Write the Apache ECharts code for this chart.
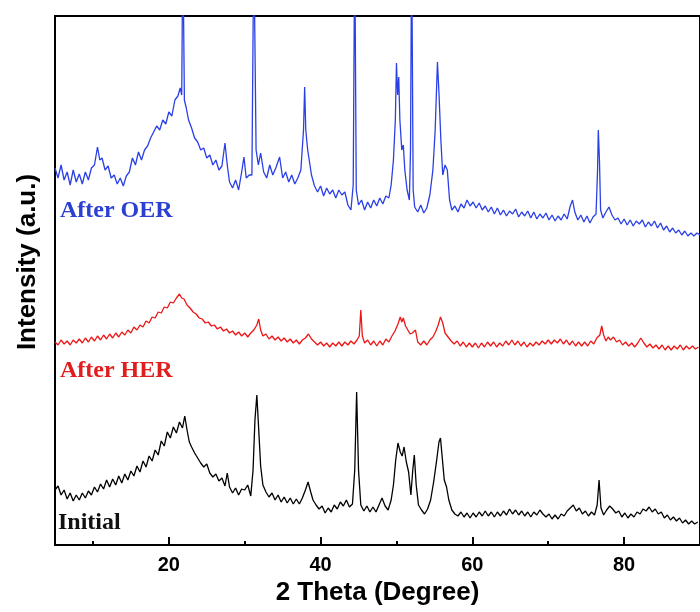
<!DOCTYPE html>
<html>
<head>
<meta charset="utf-8">
<script src="https://cdn.jsdelivr.net/npm/echarts@6/dist/echarts.min.js"></script>
<style>html,body{margin:0;padding:0;background:#fff;}#chart{width:700px;height:612px;}</style>
</head>
<body>
<div id="chart"></div>
<script>
// 2 Theta (degree) / intensity (a.u., offset already applied)
const oerPattern = [[5.0,377],[5.4,367],[5.8,380],[6.2,365],[6.6,373],[7.0,360],[7.4,375],[7.8,363],[8.2,371],[8.6,361],[9.0,373],[9.4,365],[9.8,377],[10.2,380],[10.6,398],[10.9,385],[11.2,387],[11.6,375],[12.0,379],[12.4,367],[12.8,370],[13.2,361],[13.6,367],[14.0,359],[14.4,369],[14.8,373],[15.2,387],[15.6,380],[16.0,393],[16.4,385],[16.8,395],[17.2,399],[17.6,407],[18.0,413],[18.4,419],[18.8,415],[19.2,425],[19.6,421],[20.0,433],[20.4,429],[20.8,445],[21.2,449],[21.5,457],[21.7,450],[21.85,605],[22.05,445],[22.3,437],[22.6,425],[23.0,417],[23.4,407],[23.8,403],[24.2,395],[24.6,397],[25.0,387],[25.4,390],[25.8,380],[26.2,385],[26.6,375],[27.0,379],[27.4,402],[27.7,380],[28.0,363],[28.4,357],[28.8,365],[29.2,355],[29.6,373],[29.9,388],[30.2,367],[30.6,370],[30.95,370],[31.2,605],[31.5,395],[31.8,380],[32.1,392],[32.5,373],[32.9,367],[33.3,380],[33.7,370],[34.1,377],[34.6,388],[35.0,367],[35.4,373],[35.8,363],[36.2,370],[36.6,361],[37.0,367],[37.4,375],[37.75,415],[37.9,458],[38.05,415],[38.3,395],[38.5,385],[38.8,370],[39.2,359],[39.6,353],[40.0,359],[40.4,349],[40.8,357],[41.2,351],[41.6,355],[42.0,347],[42.4,355],[42.8,350],[43.2,353],[43.6,340],[44.0,335],[44.3,360],[44.5,605],[44.7,355],[45.0,340],[45.4,345],[45.8,335],[46.2,343],[46.6,337],[47.0,345],[47.4,339],[47.8,347],[48.2,341],[48.6,349],[49.0,347],[49.3,360],[49.6,385],[49.85,425],[50.0,482],[50.15,450],[50.3,468],[50.45,425],[50.7,395],[50.9,400],[51.1,375],[51.4,355],[51.7,345],[51.85,395],[52.0,605],[52.2,355],[52.4,338],[52.8,333],[53.2,340],[53.6,332],[54.0,337],[54.4,350],[54.8,375],[55.1,415],[55.4,483],[55.6,452],[55.85,405],[56.1,370],[56.4,380],[56.7,375],[57.0,345],[57.3,335],[57.7,339],[58.1,333],[58.5,341],[58.9,337],[59.3,345],[59.7,339],[60.1,343],[60.5,337],[60.9,342],[61.3,335],[61.7,339],[62.1,333],[62.5,338],[62.9,331],[63.3,337],[63.7,330],[64.1,335],[64.5,329],[64.9,334],[65.3,331],[65.7,336],[66.1,328],[66.5,333],[66.9,329],[67.3,334],[67.7,327],[68.1,333],[68.5,326],[68.9,331],[69.3,327],[69.7,332],[70.1,325],[70.5,330],[70.9,324],[71.3,329],[71.7,325],[72.1,331],[72.5,326],[72.9,339],[73.2,345],[73.5,333],[73.9,325],[74.3,330],[74.7,323],[75.1,329],[75.5,322],[75.9,328],[76.3,331],[76.5,375],[76.6,415],[76.75,385],[76.9,335],[77.2,327],[77.6,333],[78.0,338],[78.4,330],[78.8,325],[79.2,327],[79.6,321],[80.0,326],[80.4,320],[80.8,325],[81.2,319],[81.6,324],[82.0,321],[82.4,325],[82.8,318],[83.2,323],[83.6,319],[84.0,324],[84.4,317],[84.8,322],[85.2,315],[85.6,319],[86.0,313],[86.4,317],[86.8,312],[87.2,315],[87.6,310],[88.0,314],[88.4,309],[88.8,312],[89.2,309],[89.6,312],[90.0,310]];

const herPattern = [[5.0,203],[5.4,200],[5.8,205],[6.2,201],[6.6,204],[7.0,200],[7.4,205],[7.8,202],[8.2,206],[8.6,202],[9.0,207],[9.4,203],[9.8,208],[10.2,204],[10.6,209],[11.0,205],[11.4,210],[11.8,206],[12.2,211],[12.6,207],[13.0,212],[13.4,208],[13.8,213],[14.2,210],[14.6,215],[15.0,212],[15.4,218],[15.8,215],[16.2,220],[16.6,218],[17.0,224],[17.4,222],[17.8,228],[18.2,227],[18.6,233],[19.0,232],[19.4,238],[19.8,237],[20.2,243],[20.6,242],[21.0,247],[21.4,251],[21.7,247],[22.0,246],[22.4,240],[22.8,237],[23.2,233],[23.6,231],[24.0,227],[24.4,226],[24.8,222],[25.2,223],[25.6,219],[26.0,220],[26.4,216],[26.8,218],[27.2,214],[27.6,216],[28.0,212],[28.4,214],[28.8,210],[29.2,213],[29.6,209],[30.0,212],[30.4,208],[30.8,212],[31.2,215],[31.6,220],[31.85,226],[32.1,215],[32.4,209],[32.8,211],[33.2,206],[33.6,209],[34.0,205],[34.4,208],[34.8,204],[35.2,207],[35.6,203],[36.0,206],[36.4,202],[36.8,205],[37.2,201],[37.6,205],[38.0,207],[38.4,211],[38.8,206],[39.2,203],[39.6,200],[40.0,203],[40.4,199],[40.8,202],[41.2,198],[41.6,202],[42.0,199],[42.4,203],[42.8,199],[43.2,203],[43.6,200],[44.0,204],[44.4,201],[44.8,205],[45.1,209],[45.3,235],[45.5,209],[45.8,202],[46.2,205],[46.6,200],[47.0,204],[47.4,199],[47.8,204],[48.2,200],[48.6,206],[49.0,203],[49.4,209],[49.8,214],[50.2,221],[50.5,228],[50.7,223],[50.9,227],[51.2,219],[51.5,215],[51.8,211],[52.1,212],[52.5,215],[52.8,203],[53.2,200],[53.6,204],[54.0,200],[54.4,205],[54.8,208],[55.2,214],[55.5,220],[55.8,228],[56.1,222],[56.4,212],[56.8,208],[57.2,204],[57.6,201],[58.0,204],[58.4,199],[58.8,203],[59.2,198],[59.6,202],[60.0,198],[60.4,202],[60.8,197],[61.2,202],[61.6,198],[62.0,203],[62.4,199],[62.8,203],[63.2,198],[63.6,202],[64.0,199],[64.4,204],[64.8,200],[65.2,205],[65.6,200],[66.0,204],[66.4,199],[66.8,203],[67.2,198],[67.6,202],[68.0,199],[68.4,203],[68.8,200],[69.2,204],[69.6,201],[70.0,205],[70.4,201],[70.8,205],[71.2,202],[71.6,206],[72.0,201],[72.4,205],[72.8,200],[73.2,204],[73.6,199],[74.0,203],[74.4,199],[74.8,203],[75.2,199],[75.6,204],[76.0,201],[76.4,207],[76.8,210],[77.05,219],[77.3,210],[77.6,204],[77.9,208],[78.2,205],[78.6,208],[79.0,203],[79.4,205],[79.8,200],[80.2,203],[80.6,199],[81.0,202],[81.4,198],[81.8,202],[82.2,207],[82.6,202],[83.0,198],[83.4,201],[83.8,197],[84.2,200],[84.6,196],[85.0,200],[85.4,195],[85.8,199],[86.2,195],[86.6,199],[87.0,196],[87.4,200],[87.8,195],[88.2,199],[88.6,196],[89.0,199],[89.4,196],[89.8,198]];

const initialPattern = [[5.0,55],[5.4,59],[5.8,50],[6.2,55],[6.6,46],[7.0,52],[7.4,44],[7.8,50],[8.2,45],[8.6,52],[9.0,47],[9.4,54],[9.8,50],[10.2,58],[10.6,53],[11.0,61],[11.4,56],[11.8,65],[12.2,58],[12.6,66],[13.0,60],[13.4,69],[13.8,62],[14.2,71],[14.6,65],[15.0,74],[15.4,69],[15.8,79],[16.2,73],[16.6,84],[17.0,78],[17.4,89],[17.8,84],[18.2,95],[18.6,90],[19.0,104],[19.4,99],[19.8,113],[20.2,107],[20.6,118],[21.0,112],[21.4,123],[21.8,117],[22.1,129],[22.4,115],[22.7,103],[23.0,98],[23.4,92],[23.8,87],[24.2,82],[24.6,78],[25.0,81],[25.4,72],[25.8,68],[26.2,71],[26.6,64],[27.0,67],[27.4,59],[27.7,72],[28.0,58],[28.4,52],[28.8,57],[29.2,50],[29.6,56],[30.0,55],[30.4,60],[30.8,49],[31.1,75],[31.35,125],[31.6,150],[31.85,115],[32.1,79],[32.4,60],[32.8,53],[33.2,48],[33.6,52],[34.0,45],[34.4,50],[34.8,43],[35.2,48],[35.6,42],[36.0,47],[36.4,41],[36.8,46],[37.2,41],[37.6,47],[38.0,55],[38.35,63],[38.7,53],[39.0,45],[39.4,40],[39.8,36],[40.2,39],[40.6,32],[41.0,37],[41.4,33],[41.8,40],[42.2,36],[42.6,43],[43.0,39],[43.4,45],[43.8,38],[44.2,41],[44.5,75],[44.75,153],[45.0,75],[45.3,40],[45.7,34],[46.1,39],[46.5,33],[46.9,38],[47.3,33],[47.7,40],[48.1,47],[48.5,39],[48.9,35],[49.3,45],[49.6,60],[49.9,85],[50.2,102],[50.5,93],[50.75,89],[51.0,98],[51.3,83],[51.6,73],[51.9,50],[52.15,75],[52.35,90],[52.6,60],[52.9,40],[53.3,35],[53.7,31],[54.1,36],[54.5,45],[54.9,63],[55.3,85],[55.6,103],[55.8,107],[56.0,90],[56.3,65],[56.6,58],[56.9,45],[57.3,35],[57.7,31],[58.1,29],[58.5,33],[58.9,28],[59.3,32],[59.7,27],[60.1,32],[60.5,28],[60.9,33],[61.3,29],[61.7,34],[62.1,29],[62.5,33],[62.9,28],[63.3,33],[63.7,29],[64.1,34],[64.5,30],[64.9,36],[65.3,31],[65.7,35],[66.1,30],[66.5,34],[66.9,29],[67.3,33],[67.7,28],[68.1,33],[68.5,30],[68.9,35],[69.3,31],[69.7,28],[70.1,31],[70.5,26],[70.9,30],[71.3,26],[71.7,31],[72.1,29],[72.5,34],[72.9,37],[73.3,40],[73.7,34],[74.1,37],[74.5,31],[74.9,34],[75.3,29],[75.7,33],[76.1,30],[76.45,40],[76.7,65],[76.95,37],[77.3,30],[77.7,35],[78.1,39],[78.5,36],[78.9,32],[79.3,34],[79.7,28],[80.1,32],[80.5,27],[80.9,31],[81.3,28],[81.7,33],[82.1,31],[82.5,36],[82.9,34],[83.3,38],[83.7,33],[84.1,36],[84.5,31],[84.9,33],[85.3,27],[85.7,30],[86.1,25],[86.5,28],[86.9,24],[87.3,27],[87.7,22],[88.1,25],[88.5,21],[88.9,24],[89.3,21],[89.7,23]];

const seriesNames = ['After OER', 'After HER', 'Initial'];
const seriesColors = ['#2a40e6', '#ee1515', '#000000'];
const majorTicks = [20, 40, 60, 80];
const minorTicks = [10, 30, 50, 70, 90];

const chart = echarts.init(document.getElementById('chart'), null, {renderer: 'canvas'});
const patterns = [oerPattern, herPattern, initialPattern];

chart.setOption({
  animation: false,
  backgroundColor: '#ffffff',
  grid: {left: 55, right: -10, top: 16, bottom: 67, show: true, borderColor: '#000', borderWidth: 2, backgroundColor: 'transparent'},
  xAxis: [{
    type: 'value', min: 5, max: 90,
    name: '2 Theta (Degree)', nameLocation: 'middle', nameGap: 34,
    nameTextStyle: {fontFamily: 'Liberation Sans', fontWeight: 'bold', fontSize: 26, color: '#000'},
    axisLine: {show: true, onZero: false, lineStyle: {color: '#000', width: 2}},
    axisTick: {show: true, inside: true, length: 8, customValues: majorTicks, lineStyle: {color: '#000', width: 2}},
    axisLabel: {show: true, margin: 10, customValues: majorTicks, fontFamily: 'Liberation Sans', fontWeight: 'bold', fontSize: 20, color: '#000'},
    splitLine: {show: false}
  }, {
    type: 'value', min: 5, max: 90, position: 'bottom',
    axisLine: {show: false},
    axisTick: {show: true, inside: true, length: 4, customValues: minorTicks, lineStyle: {color: '#000', width: 2}},
    axisLabel: {show: false},
    splitLine: {show: false}
  }],
  yAxis: {
    type: 'value', min: 0, max: 529,
    axisLine: {show: true, lineStyle: {color: '#000', width: 2}},
    axisTick: {show: false}, axisLabel: {show: false}, splitLine: {show: false}
  },
  graphic: [
    {type: 'text', x: 28, y: 262, rotation: Math.PI / 2,
      style: {text: 'Intensity (a.u.)', fill: '#000', font: 'bold 26px "Liberation Sans"', align: 'center', verticalAlign: 'middle'}},
    {type: 'text', x: 60, y: 210.5, style: {text: seriesNames[0], fill: '#2b3fd2', font: 'bold 24px "Liberation Serif"', align: 'left', verticalAlign: 'middle'}},
    {type: 'text', x: 60, y: 371, style: {text: seriesNames[1], fill: '#e01e1e', font: 'bold 24px "Liberation Serif"', align: 'left', verticalAlign: 'middle'}},
    {type: 'text', x: 58, y: 522.5, style: {text: seriesNames[2], fill: '#111', font: 'bold 24px "Liberation Serif"', align: 'left', verticalAlign: 'middle'}}
  ],
  series: patterns.map((p, i) => ({
    name: seriesNames[i], type: 'line', data: p, xAxisIndex: 0,
    showSymbol: false, symbol: 'none', clip: true,
    lineStyle: {color: seriesColors[i], width: 1.3}
  }))
});
</script>
</body>
</html>
